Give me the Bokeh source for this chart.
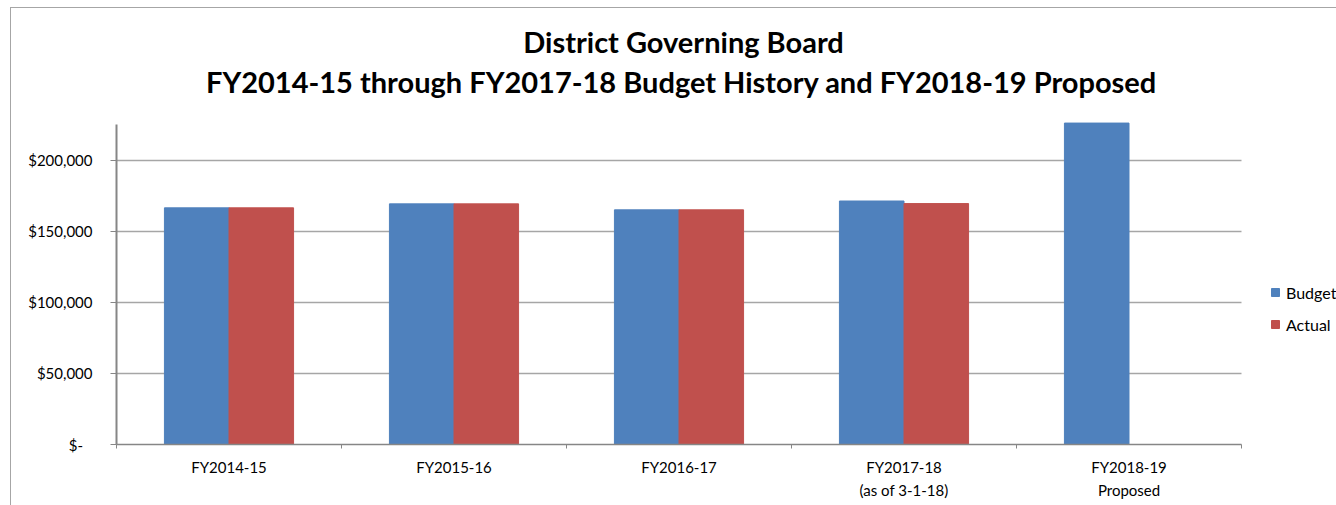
import numpy as np
from bokeh.plotting import figure
from bokeh.models import Range1d, FixedTicker, Legend, LegendItem, Label, ColumnDataSource
from bokeh.embed import file_html
from bokeh.resources import INLINE

# ---- data ----
categories = ["FY2014-15", "FY2015-16", "FY2016-17", "FY2017-18\n(as of 3-1-18)", "FY2018-19\nProposed"]
budget = [166400, 169200, 165000, 171200, 226000]
actual = [166400, 169200, 165000, 169400, float("nan")]
series_names = ["Budget", "Actual"]
series_colors = ["#4F81BD", "#C0504D"]
y_ticks = [0, 50000, 100000, 150000, 200000]
y_tick_labels = ["$-\u2002\u2009", "$50,000", "$100,000", "$150,000", "$200,000"]
y_axis_max = 225000
title_lines = ["District Governing Board",
               "FY2014-15 through FY2017-18 Budget History and FY2018-19 Proposed"]

# ---- layout (screen pixels) ----
FONT = "Lato"
W, H = 1336, 505
LEFT, CAT_RIGHT = 116, 1241      # category area, left/right
AX_TOP, AX_BOTTOM = 124, 444     # value axis, top/bottom
n = len(categories)
centers = np.arange(n) + 0.5
bar_w = 0.287
x_end = n * (W - LEFT) / (CAT_RIGHT - LEFT)
y_end = y_axis_max * AX_BOTTOM / (AX_BOTTOM - AX_TOP)


def sx_to_x(px):
    return (px - LEFT) * x_end / (W - LEFT)


def sy_to_y(py):
    return (AX_BOTTOM - py) * y_end / AX_BOTTOM


src = ColumnDataSource(dict(
    xb=centers - bar_w / 2, xa=centers + bar_w / 2,
    budget=budget, actual=actual))

p = figure(width=W, height=H, output_backend="svg", toolbar_location=None,
           x_range=Range1d(0, x_end), y_range=Range1d(0, y_end),
           min_border_left=LEFT, min_border_right=0, min_border_top=0,
           min_border_bottom=H - AX_BOTTOM,
           background_fill_color=None, border_fill_alpha=0)
p.outline_line_color = None
p.styles = {
    "background": ("linear-gradient(#a6a6a6,#a6a6a6) 10px 7px / 1px 100% no-repeat, "
                   "linear-gradient(#a6a6a6,#a6a6a6) 10px 7px / 100% 1px no-repeat, white"),
}

rb = p.vbar(x="xb", top="budget", width=bar_w, source=src, fill_color=series_colors[0],
            line_color=series_colors[0])
ra = p.vbar(x="xa", top="actual", width=bar_w, source=src, fill_color=series_colors[1],
            line_color=series_colors[1])

# x axis: labels at category centers, ticks at category boundaries
p.xaxis.bounds = (0, n)
p.xaxis.ticker = FixedTicker(ticks=list(centers), minor_ticks=list(np.arange(n + 1)))
p.xaxis.major_label_overrides = {float(c): lab for c, lab in zip(centers, categories)}
p.xaxis.major_tick_line_color = None
p.xaxis.minor_tick_line_color = "#868686"
p.xaxis.minor_tick_in = 0
p.xaxis.minor_tick_out = 4
p.xaxis.axis_line_color = "#868686"
p.xaxis.axis_line_width = 1.5
p.xaxis.major_label_text_font = FONT
p.xaxis.major_label_text_font_size = "15px"
p.xaxis.major_label_text_color = "black"
p.xaxis.major_label_text_line_height = 1.3
p.xaxis.major_label_standoff = 7
p.xgrid.grid_line_color = None

p.yaxis.bounds = (0, y_axis_max)
p.yaxis.ticker = FixedTicker(ticks=y_ticks)
p.yaxis.major_label_overrides = {t: lab for t, lab in zip(y_ticks, y_tick_labels)}
p.yaxis.minor_tick_line_color = None
p.yaxis.major_tick_line_color = "#868686"
p.yaxis.major_tick_in = 0
p.yaxis.major_tick_out = 6
p.yaxis.axis_line_color = "#868686"
p.yaxis.axis_line_width = 2
p.yaxis.major_label_text_font = FONT
p.yaxis.major_label_text_font_size = "15px"
p.yaxis.major_label_text_color = "black"
p.yaxis.major_label_standoff = 18
p.ygrid.grid_line_color = "#a6a6a6"
p.ygrid.grid_line_width = 1.5
p.ygrid.cross_bounds = (0, n)

# two-line centred title
for (cx, cy), line in zip([(683, 41), (681, 81)], title_lines):
    p.add_layout(Label(x=sx_to_x(cx), y=sy_to_y(cy), text=line, text_align="center",
                       text_baseline="middle", text_font=FONT, text_font_size="29px",
                       text_font_style="bold", text_color="black"))

legend = Legend(items=[LegendItem(label=series_names[0], renderers=[rb]),
                       LegendItem(label=series_names[1], renderers=[ra])],
                location=(1270 - LEFT, AX_BOTTOM - 334), orientation="vertical",
                glyph_width=10, glyph_height=10, label_standoff=6, spacing=12, label_height=20,
                padding=0, margin=0, border_line_color=None, background_fill_alpha=0,
                label_text_font=FONT, label_text_font_size="16px", label_text_color="black")
p.add_layout(legend, "center")

open("out.html", "w").write(file_html(p, INLINE))
